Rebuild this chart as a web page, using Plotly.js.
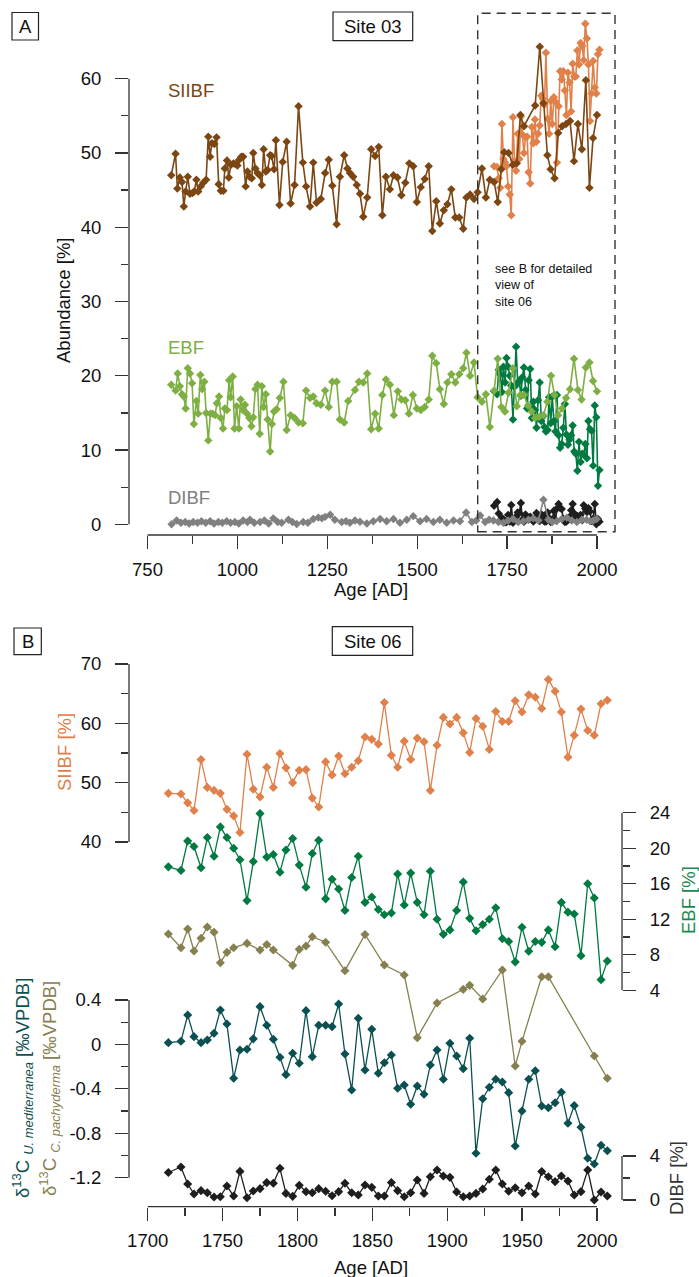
<!DOCTYPE html>
<html><head><meta charset="utf-8">
<script src="https://cdn.plot.ly/plotly-3.0.1.min.js"></script>
<style>html,body{margin:0;padding:0;background:#fff}</style>
</head><body><div id="chart" style="width:699px;height:1277px"></div>
<script>
// ---------------- DATA ----------------
// Site 03 (panel A)
const siibf03Ages = [816,828,833,840,846,851,856,862,868,875,880,886,891,898,905,913,919,924,929,936,942,948,954,961,965,971,976,982,989,994,1000,1005,1011,1016,1023,1028,1034,1040,1044,1050,1056,1062,1068,1073,1079,1084,1091,1095,1102,1107,1117,1126,1137,1148,1159,1170,1182,1191,1202,1211,1220,1232,1244,1254,1264,1276,1285,1297,1306,1313,1322,1332,1341,1350,1361,1372,1383,1393,1403,1413,1424,1434,1445,1456,1467,1478,1489,1499,1510,1521,1532,1542,1553,1563,1574,1584,1595,1606,1617,1628,1637,1647,1658,1668,1680,1691,1702,1714,1724,1734,1742,1754,1766,1777,1787,1797,1828,1841,1851,1862,1871,1882,1892,1903,1914,1925,1936,1947,1958,1969,1979,1989,2000];
const siibf03 = [47.0,49.9,45.2,46.7,46.1,42.8,44.8,46.8,44.5,44.6,44.8,46.4,44.8,45.5,46.0,46.4,52.2,49.5,51.3,51.2,52.1,45.8,44.9,44.9,47.9,49.0,46.7,48.4,48.6,48.5,48.3,49.1,49.5,49.5,45.5,47.5,46.8,46.6,50.0,47.9,47.3,47.0,45.7,50.5,47.5,47.7,49.7,49.6,47.8,51.7,43.0,48.8,51.5,43.2,45.7,56.3,48.7,45.5,42.8,48.7,43.3,43.8,47.3,49.1,45.6,40.4,46.8,49.7,47.9,47.3,46.8,45.7,44.5,41.4,44.0,50.5,49.6,50.8,41.6,46.8,45.1,47.0,46.7,44.3,46.0,48.6,48.2,43.4,45.4,46.5,48.2,39.5,43.5,40.5,42.3,43.1,45.1,41.3,41.3,39.8,44.0,44.4,43.8,44.7,47.9,44.0,46.4,46.1,43.4,47.8,50.1,50.0,48.4,48.6,55.1,53.6,56.4,64.3,56.7,49.7,47.8,46.6,52.7,53.6,53.9,54.3,48.9,53.9,50.5,59.8,45.3,52.0,55.1];

const ebf03Ages = [816,828,834,840,846,851,856,862,868,874,879,886,891,897,902,908,913,919,925,931,938,943,949,954,960,965,971,977,981,987,992,998,1004,1009,1015,1021,1027,1033,1039,1044,1050,1056,1062,1068,1073,1079,1084,1091,1096,1102,1109,1118,1128,1137,1148,1159,1170,1182,1191,1202,1211,1220,1232,1244,1254,1264,1276,1285,1297,1308,1327,1338,1350,1361,1372,1383,1393,1403,1413,1424,1435,1446,1456,1467,1477,1488,1499,1510,1521,1532,1542,1553,1563,1574,1584,1595,1606,1617,1628,1637,1647,1658,1668,1680,1691,1702,1714,1724,1734,1744,1754,1766,1777,1787,1797,1808,1818,1828,1840,1851,1862,1872,1882,1892,1903,1914,1925,1936,1947,1957,1969,1979,1989,2000];
const ebf03 = [18.8,18.0,20.3,18.6,17.5,17.2,15.6,21.0,20.3,19.0,13.5,16.6,14.9,20.1,18.2,19.2,15.0,11.3,14.9,14.9,14.7,16.3,17.2,14.3,12.9,15.6,15.4,19.4,17.1,19.9,12.9,15.9,12.9,16.8,15.4,16.1,14.9,14.3,13.2,14.4,18.2,18.8,12.2,18.6,15.8,17.5,14.1,9.8,13.5,15.2,15.5,17.0,19.2,12.7,14.7,14.3,13.7,13.6,18.0,17.0,17.2,16.3,16.1,18.0,15.8,19.2,19.2,14.1,13.7,16.6,18.1,19.2,19.1,20.3,12.8,14.9,12.9,17.4,19.5,18.8,14.7,17.9,16.8,16.7,14.9,17.4,15.6,15.4,15.8,16.8,22.7,21.7,18.2,16.2,19.1,20.2,19.1,20.2,21.0,23.1,20.0,21.8,17.1,16.5,17.5,13.1,18.0,22.3,15.8,15.2,17.7,21.0,15.9,17.4,17.4,16.0,15.2,14.3,14.5,14.7,16.5,20.0,17.4,14.7,15.6,17.0,18.2,22.3,18.1,16.8,21.1,21.8,19.3,17.9];

const dibf03Ages = [817,831,843,855,866,877,889,900,912,924,935,947,958,970,981,993,1004,1016,1028,1035,1047,1063,1075,1087,1100,1112,1123,1142,1153,1165,1183,1196,1211,1225,1235,1244,1258,1271,1290,1302,1313,1327,1341,1360,1378,1397,1415,1434,1452,1471,1489,1508,1526,1545,1563,1582,1601,1619,1636,1652,1664,1675,1689,1700,1712,1726,1740,1753,1767,1781,1795,1809,1823,1837,1851,1865,1876,1888,1902,1916,1930,1944,1958,1971,1981,1990,1999];
const dibf03 = [0.0,0.5,0.2,0.3,0.1,0.3,0.2,0.4,0.2,0.4,0.1,0.3,0.2,0.4,0.2,0.3,0.1,0.5,0.3,0.6,0.2,0.3,0.5,0.1,0.8,0.3,0.2,0.6,0.3,0.05,0.3,0.2,0.7,0.9,0.8,1.0,1.3,0.6,0.3,0.4,0.2,0.5,0.35,0.1,0.4,0.7,0.4,0.7,0.2,0.6,1.1,0.4,0.7,0.3,0.6,0.2,0.5,0.4,1.6,0.3,0.5,1.2,0.3,0.6,0.5,0.3,0.2,0.5,0.7,0.3,0.4,0.6,0.8,0.5,3.3,0.6,0.3,0.4,0.7,0.9,0.5,0.3,0.6,0.6,0.4,0.5,0.7];

// Site 06 (panel B, also overlaid in panel A)
const ages06 = [1713.8,1722.2,1726.7,1730.9,1735.6,1739.8,1744.3,1748.5,1752.9,1757.4,1761.6,1766.3,1770.5,1775.0,1779.5,1783.9,1788.3,1792.3,1796.8,1801.2,1805.7,1809.9,1814.2,1818.8,1823.1,1827.5,1831.7,1836.2,1840.6,1845.1,1849.6,1854.0,1858.0,1862.7,1866.9,1871.3,1875.6,1880.0,1884.5,1888.7,1893.2,1897.4,1901.8,1906.3,1910.7,1915.0,1919.2,1923.7,1928.1,1932.4,1936.8,1941.0,1945.4,1949.9,1954.4,1958.8,1963.1,1967.5,1972.0,1976.2,1980.6,1984.8,1989.3,1993.8,1998.2,2002.7,2006.9];
const siibf06 = [48.2,48.1,46.6,45.3,53.9,49.2,48.7,48.2,45.5,44.4,41.6,54.8,48.9,47.6,52.6,49.2,54.9,52.5,50.0,52.1,52.2,47.4,45.9,53.5,51.3,54.5,51.5,52.6,53.7,57.7,57.3,56.5,63.5,54.6,52.6,57.0,53.9,57.5,56.9,48.7,56.3,61.0,59.9,61.0,58.4,55.1,60.8,59.5,55.6,62.0,60.3,60.3,63.8,61.9,64.8,64.4,62.5,67.4,65.4,61.9,54.3,58.0,62.4,58.8,58.0,63.3,63.9];
const ebf06 = [17.9,17.5,20.8,20.2,17.8,21.2,19.1,22.4,21.2,20.0,18.7,14.1,18.5,23.9,19.0,19.3,17.3,19.8,21.1,18.1,15.6,19.4,20.9,14.3,16.5,15.4,13.0,16.7,19.1,13.9,14.5,13.1,12.5,12.7,17.1,13.6,17.2,13.9,12.5,17.4,12.0,10.3,10.8,13.0,16.2,12.1,10.7,11.4,12.0,13.3,9.8,9.5,7.2,11.1,8.4,9.5,9.4,10.8,8.9,13.9,12.8,12.6,7.9,16.0,14.4,5.2,7.3];
const dibf06 = [2.5,3.0,1.45,0.55,0.85,0.66,0.27,0.3,1.27,0.36,2.6,0.21,0.82,1.03,1.58,1.52,2.88,0.6,0.33,1.33,0.76,0.66,1.03,0.79,0.39,0.76,1.52,0.66,0.45,1.36,1.15,0.36,0.36,1.58,0.85,0.3,0.66,1.82,0.6,2.12,2.73,2.18,2.06,0.73,0.3,0.36,0.6,1.0,1.88,2.73,1.45,0.79,1.12,0.66,1.27,0.55,2.58,2.12,1.67,2.18,1.73,0.45,0.76,2.73,0.0,0.73,0.36];
const d13cUmed = [0.016,0.028,0.265,0.07,0.016,0.04,0.1,0.31,0.184,-0.305,-0.05,-0.044,0.05,0.34,0.172,0.046,-0.116,-0.272,-0.08,-0.17,0.304,-0.11,0.172,0.172,0.16,0.364,-0.086,-0.41,0.235,-0.23,0.136,-0.26,-0.165,-0.095,-0.395,-0.365,-0.539,-0.374,-0.449,-0.185,-0.05,-0.314,0.01,-0.104,-0.218,0.055,-0.98,-0.489,-0.386,-0.314,-0.338,-0.434,-0.915,-0.6,-0.314,-0.237,-0.554,-0.57,-0.525,-0.431,-0.71,-0.551,-0.746,-1.025,-1.077,-0.908,-0.957];
const cpachAges = [1713.8,1722.2,1726.7,1730.9,1735.6,1739.8,1744.3,1748.5,1752.9,1757.4,1766.3,1775.0,1779.5,1783.9,1796.8,1801.2,1805.7,1809.9,1818.8,1831.7,1845.1,1858.0,1871.3,1880.0,1893.2,1910.7,1915.0,1923.7,1936.8,1945.4,1949.9,1963.1,1967.5,1998.2,2006.9];
const d13cCpach = [0.994,0.871,1.039,0.841,0.956,1.057,1.01,0.736,0.829,0.871,0.91,0.85,0.9,0.85,0.712,0.856,0.886,0.97,0.92,0.664,0.99,0.715,0.625,0.061,0.373,0.496,0.532,0.409,0.67,-0.194,0.028,0.61,0.61,-0.104,-0.305];

// Tick labels
const xTicksA = [750,1000,1250,1500,1750,2000];
const xMinorA = [875,1125,1375,1625,1875];
const yTicksA = [0,10,20,30,40,50,60];
const yMinorA = [5,15,25,35,45,55];
const xTicksB = [1700,1750,1800,1850,1900,1950,2000];
const xMinorB = [1725,1775,1825,1875,1925,1975];
const siibfTicksB = [40,50,60,70];
const siibfMinorB = [45,55,65];
const ebfTicksB = [4,8,12,16,20,24];
const ebfMinorB = [6,10,14,18,22];
const d13cTicks = [0.4,0,-0.4,-0.8,-1.2];
const d13cTickText = ['0.4','0','-0.4','-0.8','-1.2'];
const d13cMinor = [0.2,-0.2,-0.6,-1.0];
const dibfTicksB = [0,4];
const dibfMinorB = [2];

// ---------------- STYLE / LAYOUT ----------------
const W = 699, H = 1277;
const FONT = 'Liberation Sans, Arial, Helvetica, sans-serif';
const C = {
  brown:'#7B4612', orange:'#E0804A', lgreen:'#7DAF42', dgreen:'#007A40',
  grey:'#808080', black:'#1E1E1E', teal:'#0B5050', olive:'#868050', axis:'#333333', text:'#111111'
};
const PX = x => x / W, PY = y => 1 - y / H;
function lin(p1, v1, p2, v2, pa, pb) { const k = (v2 - v1) / (p2 - p1); return [v1 + (pa - p1) * k, v1 + (pb - p1) * k]; }

// Panel A plot area (px)
const A = {l:129, r:640, t:5, b:535};
// Panel B plot area (px)
const B = {l:129, r:622, t:615, b:1206.7};

const tickFont = {family:FONT, size:18.5, color:C.text};
function axisBase(extra) {
  return Object.assign({
    showgrid:false, zeroline:false, showline:false, ticks:'outside', ticklen:13, tickwidth:1.3,
    tickcolor:C.axis, tickfont:tickFont, tickmode:'array', fixedrange:true, ticklabelstandoff:10
  }, extra);
}
function minor(vals, len) { return {tickmode:'array', tickvals:vals, ticks:'outside', ticklen:len, tickwidth:1.3, tickcolor:C.axis, showgrid:false}; }

function tr(x, y, color, xa, ya, lw, ms) {
  return {x:x, y:y, type:'scatter', mode:'lines+markers', xaxis:xa, yaxis:ya, hoverinfo:'skip',
    line:{color:color, width:lw}, marker:{symbol:'diamond', size:ms, color:color, line:{width:0}}};
}

const traces = [
  // panel A
  tr(ages06, siibf06, C.orange, 'x', 'y', 1.6, 6.5),
  tr(siibf03Ages, siibf03, C.brown, 'x', 'y', 1.6, 6.5),
  tr(ages06, ebf06, C.dgreen, 'x', 'y', 1.6, 6.5),
  tr(ebf03Ages, ebf03, C.lgreen, 'x', 'y', 1.6, 6.5),
  tr(ages06, dibf06, C.black, 'x', 'y', 1.6, 6.5),
  tr(dibf03Ages, dibf03, C.grey, 'x', 'y', 1.6, 6.5),
  // panel B
  tr(ages06, siibf06, C.orange, 'x2', 'y2', 1.3, 7),
  tr(ages06, ebf06, C.dgreen, 'x2', 'y3', 1.3, 7),
  tr(cpachAges, d13cCpach, C.olive, 'x2', 'y4', 1.3, 7),
  tr(ages06, d13cUmed, C.teal, 'x2', 'y4', 1.3, 7),
  tr(ages06, dibf06, C.black, 'x2', 'y5', 1.3, 7)
];

const layout = {
  width:W, height:H, margin:{l:0, r:0, t:0, b:0}, paper_bgcolor:'#fff', plot_bgcolor:'rgba(0,0,0,0)',
  showlegend:false, font:{family:FONT, color:C.text},
  xaxis: axisBase({domain:[PX(A.l), PX(A.r)], anchor:'y', range:lin(147.5,750,597,2000,A.l,A.r),
    tickvals:xTicksA, minor:minor(xMinorA, 8), ticklabelstandoff:5}),
  yaxis: axisBase({domain:[PY(A.b), PY(A.t)], anchor:'x', range:lin(524.3,0,78.7,60,A.b,A.t),
    tickvals:yTicksA, minor:minor(yMinorA, 7)}),
  xaxis2: axisBase({domain:[PX(B.l), PX(B.r)], anchor:'y2', range:lin(147.7,1700,597,2000,B.l,B.r),
    tickvals:xTicksB, minor:minor(xMinorB, 8), ticklabelstandoff:4}),
  yaxis2: axisBase({domain:[PY(B.b), PY(B.t)], anchor:'x2', range:lin(664,70,842,40,B.b,B.t),
    tickvals:siibfTicksB, minor:minor(siibfMinorB, 7)}),
  yaxis3: axisBase({overlaying:'y2', side:'right', anchor:'x2', range:lin(812.7,24,990.3,4,B.b,B.t),
    tickvals:ebfTicksB, minor:minor(ebfMinorB, 7)}),
  yaxis4: axisBase({overlaying:'y2', side:'left', anchor:'x2', range:lin(1000,0.4,1177.7,-1.2,B.b,B.t),
    tickvals:d13cTicks, ticktext:d13cTickText, minor:minor(d13cMinor, 7)}),
  yaxis5: axisBase({overlaying:'y2', side:'right', anchor:'x2', range:lin(1156,4,1200,0,B.b,B.t),
    tickvals:dibfTicksB, minor:minor(dibfMinorB, 7)}),
  shapes: [],
  annotations: []
};

const S = layout.shapes, N = layout.annotations;
const axLine = {color:C.axis, width:1.3};
// axis lines (only across labelled extent)
S.push({type:'line', xref:'paper', yref:'y', x0:PX(A.l), x1:PX(A.l), y0:0, y1:60, line:axLine});
S.push({type:'line', xref:'x', yref:'paper', x0:750, x1:2000, y0:PY(A.b), y1:PY(A.b), line:axLine});
S.push({type:'line', xref:'paper', yref:'y2', x0:PX(B.l), x1:PX(B.l), y0:40, y1:70, line:axLine});
S.push({type:'line', xref:'paper', yref:'y3', x0:PX(B.r), x1:PX(B.r), y0:4, y1:24, line:axLine});
S.push({type:'line', xref:'paper', yref:'y4', x0:PX(B.l), x1:PX(B.l), y0:-1.2, y1:0.4, line:axLine});
S.push({type:'line', xref:'paper', yref:'y5', x0:PX(B.r), x1:PX(B.r), y0:0, y1:4, line:axLine});
S.push({type:'line', xref:'x2', yref:'paper', x0:1700, x1:2000, y0:PY(B.b), y1:PY(B.b), line:axLine});
// dashed box
S.push({type:'rect', xref:'paper', yref:'paper', x0:PX(477.7), x1:PX(615), y0:PY(531.7), y1:PY(13.3),
  line:{color:'#333', width:1.4, dash:'9px,6px'}, fillcolor:'rgba(0,0,0,0)'});
// label boxes
function box(x0, x1, y0, y1) { S.push({type:'rect', xref:'paper', yref:'paper', x0:PX(x0), x1:PX(x1), y0:PY(y1), y1:PY(y0), line:{color:'#222', width:1.2}}); }
box(12, 38.5, 12.5, 40); box(333, 412.7, 12, 40.7); box(14, 41.3, 628, 654.7); box(332.3, 412.7, 626.7, 655.3);

function txt(text, x, y, opt) {
  N.push(Object.assign({text:text, xref:'paper', yref:'paper', x:PX(x), y:PY(y), showarrow:false,
    xanchor:'center', yanchor:'middle', font:{family:FONT, size:18.5, color:C.text}}, opt || {}));
}
txt('A', 25.2, 26.5);
txt('Site 03', 373, 26.5);
txt('B', 27.7, 641.5);
txt('Site 06', 372.5, 641);
txt('SIIBF', 165.7, 90, {xanchor:'left', font:{family:FONT, size:18.5, color:C.brown}});
txt('EBF', 165.7, 347, {xanchor:'left', font:{family:FONT, size:18.5, color:C.lgreen}});
txt('DIBF', 165.7, 497, {xanchor:'left', font:{family:FONT, size:18.5, color:C.grey}});
txt('see B for detailed<br>view of<br>site 06', 492.7, 260, {xanchor:'left', yanchor:'top', align:'left', font:{family:FONT, size:12.5, color:C.text}});
txt('Abundance [%]', 64, 301, {textangle:-90});
txt('Age [AD]', 371, 589);
txt('Age [AD]', 371, 1267);
txt('SIIBF [%]', 65, 752, {textangle:-90, font:{family:FONT, size:18.5, color:C.orange}});
txt('EBF [%]', 688, 900, {textangle:-90, font:{family:FONT, size:18.5, color:'#1A8A52'}});
txt('DIBF [%]', 676, 1178, {textangle:-90, font:{family:FONT, size:18.5, color:'#333'}});
txt('δ<sup>13</sup>C <sub><i>U. mediterranea</i></sub> [‰VPDB]', 22, 1088, {textangle:-90, font:{family:FONT, size:18.5, color:C.teal}});
txt('δ<sup>13</sup>C <sub><i>C. pachyderma</i></sub> [‰VPDB]', 49, 1089, {textangle:-90, font:{family:FONT, size:18.5, color:C.olive}});

Plotly.newPlot('chart', traces, layout, {staticPlot:true, displayModeBar:false});
</script>
</body></html>
